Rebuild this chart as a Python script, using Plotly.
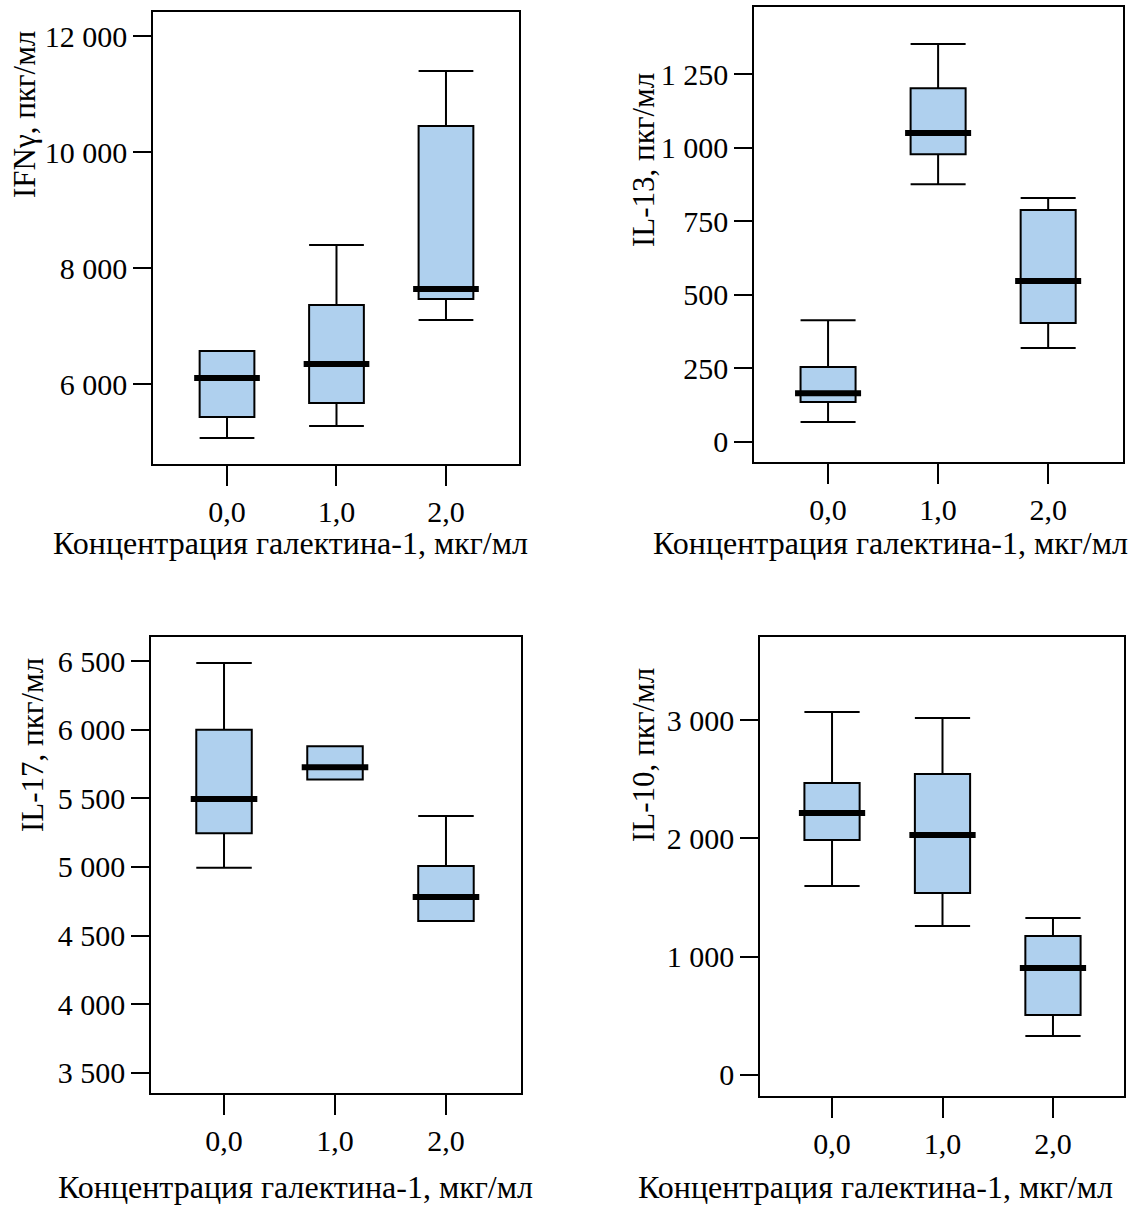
import plotly.graph_objects as go

# ---- data ----
CATS = [0, 1, 2]
CAT_LABELS = ["0,0", "1,0", "2,0"]
X_TITLE = "Концентрация галектина-1, мкг/мл"

# IFNγ
ifn_low = [5069, 5276, 7103]
ifn_q1 = [5431, 5672, 7466]
ifn_med = [6103, 6345, 7638]
ifn_q3 = [6569, 7362, 10448]
ifn_high = [6569, 8397, 11397]
ifn_ticks = [6000, 8000, 10000, 12000]
ifn_ticktext = ["6 000", "8 000", "10 000", "12 000"]

# IL-13
il13_low = [68, 876, 319]
il13_q1 = [136, 978, 404]
il13_med = [166, 1050, 547]
il13_q3 = [255, 1202, 788]
il13_high = [414, 1352, 829]
il13_ticks = [0, 250, 500, 750, 1000, 1250]
il13_ticktext = ["0", "250", "500", "750", "1 000", "1 250"]

# IL-17
il17_low = [4995, 5638, 4607]
il17_q1 = [5245, 5638, 4607]
il17_med = [5495, 5726, 4782]
il17_q3 = [6000, 5879, 5008]
il17_high = [6485, 5879, 5371]
il17_ticks = [3500, 4000, 4500, 5000, 5500, 6000, 6500]
il17_ticktext = ["3 500", "4 000", "4 500", "5 000", "5 500", "6 000", "6 500"]

# IL-10
il10_low = [1598, 1260, 330]
il10_q1 = [1986, 1538, 507]
il10_med = [2215, 2029, 904]
il10_q3 = [2468, 2544, 1175]
il10_high = [3068, 3018, 1327]
il10_ticks = [0, 1000, 2000, 3000]
il10_ticktext = ["0", "1 000", "2 000", "3 000"]

FILL = "#AFD0EE"
FONT = "Liberation Serif"

panels = [
    dict(name="IFNγ, пкг/мл", low=ifn_low, q1=ifn_q1, med=ifn_med, q3=ifn_q3, high=ifn_high,
         ticks=ifn_ticks, ticktext=ifn_ticktext, yrange=[4621, 12414], xrange=[-0.676, 2.667],
         xdom=[153/1143, 519/1143], ydom=[1-464/1205, 1-12/1205],
         ytitle=(25, 115), xtitle=(290, 543)),
    dict(name="IL-13, пкг/мл", low=il13_low, q1=il13_q1, med=il13_med, q3=il13_q3, high=il13_high,
         ticks=il13_ticks, ticktext=il13_ticktext, yrange=[-68, 1478], xrange=[-0.673, 2.68],
         xdom=[754/1143, 1123/1143], ydom=[1-462/1205, 1-7/1205],
         ytitle=(644, 160), xtitle=(891, 543)),
    dict(name="IL-17, пкг/мл", low=il17_low, q1=il17_q1, med=il17_med, q3=il17_q3, high=il17_high,
         ticks=il17_ticks, ticktext=il17_ticktext, yrange=[3354, 6675], xrange=[-0.658, 2.676],
         xdom=[151/1143, 521/1143], ydom=[1-1093/1205, 1-637/1205],
         ytitle=(32, 745), xtitle=(295, 1187)),
    dict(name="IL-10, пкг/мл", low=il10_low, q1=il10_q1, med=il10_med, q3=il10_q3, high=il10_high,
         ticks=il10_ticks, ticktext=il10_ticktext, yrange=[-178, 3702], xrange=[-0.652, 2.643],
         xdom=[760/1143, 1124/1143], ydom=[1-1096/1205, 1-637/1205],
         ytitle=(643, 755), xtitle=(875, 1187)),
]

W, H = 1143, 1205
fig = go.Figure()
annotations = []
layout_axes = {}

for i, p in enumerate(panels):
    n = i + 1
    xa = "x" if n == 1 else f"x{n}"
    ya = "y" if n == 1 else f"y{n}"
    fig.add_trace(go.Box(
        x=CATS, q1=p["q1"], median=p["med"], q3=p["q3"],
        lowerfence=p["low"], upperfence=p["high"],
        width=0.5, whiskerwidth=1, fillcolor=FILL,
        line=dict(color="black", width=2), boxpoints=False,
        xaxis=xa, yaxis=ya, showlegend=False, hoverinfo="skip",
    ))
    mx, my = [], []
    for c, m in zip(CATS, p["med"]):
        mx += [c - 0.3, c + 0.3, None]
        my += [m, m, None]
    fig.add_trace(go.Scatter(
        x=mx, y=my, mode="lines", line=dict(color="black", width=6),
        xaxis=xa, yaxis=ya, showlegend=False, hoverinfo="skip",
    ))
    axis_common = dict(showgrid=False, zeroline=False, showline=True, mirror=True,
                       linecolor="black", linewidth=1.5, ticks="outside",
                       tickcolor="black", tickwidth=2,
                       tickfont=dict(family=FONT, size=30, color="black"))
    layout_axes["xaxis" if n == 1 else f"xaxis{n}"] = dict(
        domain=p["xdom"], range=p["xrange"], anchor=ya,
        tickvals=CATS, ticktext=CAT_LABELS, ticklen=20, **axis_common)
    layout_axes["yaxis" if n == 1 else f"yaxis{n}"] = dict(
        domain=p["ydom"], range=p["yrange"], anchor=xa,
        tickvals=p["ticks"], ticktext=p["ticktext"], ticklen=18, **axis_common)
    annotations.append(dict(
        text=p["name"], x=p["ytitle"][0]/W, y=1-p["ytitle"][1]/H, xref="paper", yref="paper",
        textangle=-90, showarrow=False, xanchor="center", yanchor="middle",
        font=dict(family=FONT, size=31, color="black")))
    annotations.append(dict(
        text=X_TITLE, x=p["xtitle"][0]/W, y=1-p["xtitle"][1]/H, xref="paper", yref="paper",
        showarrow=False, xanchor="center", yanchor="middle",
        font=dict(family=FONT, size=32, color="black")))

fig.update_layout(
    width=W, height=H, margin=dict(l=0, r=0, t=0, b=0),
    paper_bgcolor="white", plot_bgcolor="white",
    annotations=annotations, **layout_axes,
)

fig.write_html("out.html")
